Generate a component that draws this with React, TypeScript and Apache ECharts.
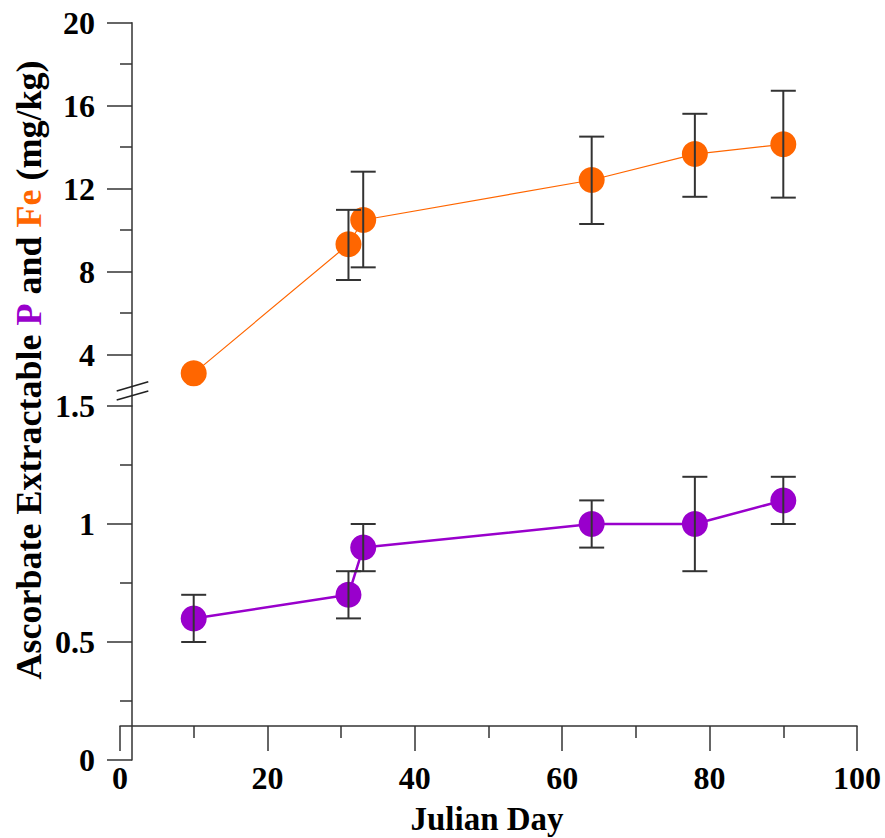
import React, { useEffect, useRef } from "react";
import * as echarts from "echarts";

const feDays = [10, 31, 33, 64, 78, 90];
const feValues = [3.1, 9.32, 10.49, 12.42, 13.67, 14.14];
const feLow = [null, 7.6, 8.21, 10.3, 11.61, 11.57];
const feHigh = [null, 10.98, 12.82, 14.51, 15.61, 16.72];

const pDays = [10, 31, 33, 64, 78, 90];
const pValues = [0.6, 0.7, 0.9, 1.0, 1.0, 1.1];
const pLow = [0.5, 0.6, 0.8, 0.9, 0.8, 1.0];
const pHigh = [0.7, 0.8, 1.0, 1.1, 1.2, 1.2];

const xTicks = [0, 20, 40, 60, 80, 100];
const feMajorTicks = [4, 8, 12, 16, 20];
const feMinorTicks = [6, 10, 14, 18];

const FONT = "'Liberation Serif', 'Times New Roman', serif";
const ORANGE = "#FF6600";
const PURPLE = "#9900CC";
const AXIS = "#333333";

function errRender(params: any, api: any) {
  const x = api.value(0);
  const lo = api.value(2);
  const hi = api.value(3);
  if (lo == null || hi == null || isNaN(lo) || isNaN(hi)) return null;
  const a = api.coord([x, lo]);
  const b = api.coord([x, hi]);
  const w = 12.5;
  const st = { stroke: "#333", lineWidth: 2 };
  return {
    type: "group",
    children: [
      { type: "line", shape: { x1: a[0], y1: a[1], x2: b[0], y2: b[1] }, style: st },
      { type: "line", shape: { x1: a[0] - w, y1: a[1], x2: a[0] + w, y2: a[1] }, style: st },
      { type: "line", shape: { x1: b[0] - w, y1: b[1], x2: b[0] + w, y2: b[1] }, style: st },
    ],
  };
}

export default function App() {
  const ref = useRef<HTMLDivElement>(null);
  useEffect(() => {
    document.body.style.margin = "0";
    const chart = echarts.init(ref.current!, null, { renderer: "svg" });
    const hiddenX = (gi: number, min: number) => ({
      type: "value",
      gridIndex: gi,
      min,
      max: 100,
      show: false,
    });
    const labelStyle = { fontFamily: FONT, fontWeight: "bold", fontSize: 32, color: "#000" };
    const upperMin = 20 - (406 - 22.7) / 20.75;
    const xShift = 12 / 7.37;
    chart.setOption({
      animation: false,
      backgroundColor: "#fff",
      grid: [
        { left: 132, right: 28, top: 22.7, height: 406 - 22.7 },
        { left: 132, right: 28, top: 406, height: 354 },
        { left: 120, right: 28, top: 700, height: 26 },
      ],
      xAxis: [
        hiddenX(0, xShift),
        hiddenX(1, xShift),
        {
          type: "value",
          gridIndex: 2,
          min: 0,
          max: 100,
          interval: 20,
          position: "bottom",
          axisLine: { show: true, onZero: false, lineStyle: { color: AXIS, width: 1.5 } },
          axisTick: { show: true, length: 25, lineStyle: { color: AXIS, width: 1.5 } },
          minorTick: { show: true, splitNumber: 2, length: 12, lineStyle: { color: AXIS, width: 1.5 } },
          splitLine: { show: false },
          axisLabel: { ...labelStyle, margin: 36, customValues: xTicks },
        },
      ],
      yAxis: [
        {
          type: "value",
          gridIndex: 0,
          position: "left",
          min: upperMin,
          max: 20,
          axisLine: { show: true, onZero: false, lineStyle: { color: AXIS, width: 1.5 } },
          axisTick: { show: true, length: 25, customValues: feMajorTicks, lineStyle: { color: AXIS, width: 1.5 } },
          axisLabel: { ...labelStyle, margin: 37, customValues: feMajorTicks },
          splitLine: { show: false },
        },
        {
          type: "value",
          gridIndex: 0,
          position: "left",
          offset: 0,
          min: upperMin,
          max: 20,
          axisLine: { show: false, onZero: false },
          axisTick: { show: true, length: 12, customValues: feMinorTicks, lineStyle: { color: AXIS, width: 1.5 } },
          axisLabel: { show: false },
          splitLine: { show: false },
        },
        {
          type: "value",
          gridIndex: 1,
          position: "left",
          min: 0,
          max: 1.5,
          interval: 0.5,
          axisLine: { show: true, onZero: false, lineStyle: { color: AXIS, width: 1.5 } },
          axisTick: { show: true, length: 25, lineStyle: { color: AXIS, width: 1.5 } },
          minorTick: { show: true, splitNumber: 2, length: 12, lineStyle: { color: AXIS, width: 1.5 } },
          axisLabel: { ...labelStyle, margin: 37, formatter: (v: number) => String(v) },
          splitLine: { show: false },
        },
        { type: "value", gridIndex: 2, show: false, min: 0, max: 1 },
      ],
      series: [
        {
          type: "line",
          xAxisIndex: 0,
          yAxisIndex: 0,
          data: feDays.map((d, i) => [d, feValues[i]]),
          symbol: "circle",
          symbolSize: 26,
          itemStyle: { color: ORANGE },
          lineStyle: { color: ORANGE, width: 1.2 },
          z: 2,
        },
        {
          type: "custom",
          xAxisIndex: 0,
          yAxisIndex: 0,
          renderItem: errRender,
          data: feDays.map((d, i) => [d, feValues[i], feLow[i] ?? NaN, feHigh[i] ?? NaN]),
          z: 5,
        },
        {
          type: "line",
          xAxisIndex: 1,
          yAxisIndex: 2,
          data: pDays.map((d, i) => [d, pValues[i]]),
          symbol: "circle",
          symbolSize: 26,
          itemStyle: { color: PURPLE },
          lineStyle: { color: PURPLE, width: 2.5 },
          z: 2,
        },
        {
          type: "custom",
          xAxisIndex: 1,
          yAxisIndex: 2,
          renderItem: errRender,
          data: pDays.map((d, i) => [d, pValues[i], pLow[i], pHigh[i]]),
          z: 5,
        },
      ],
      graphic: [
        {
          type: "line",
          shape: { x1: 116.7, y1: 391, x2: 148.3, y2: 381.7 },
          style: { stroke: "#222", lineWidth: 1.5 },
          z: 10,
        },
        {
          type: "line",
          shape: { x1: 116.7, y1: 400, x2: 148.3, y2: 391 },
          style: { stroke: "#222", lineWidth: 1.5 },
          z: 10,
        },
        {
          type: "text",
          x: 487,
          y: 819,
          style: {
            text: "Julian Day",
            font: `bold 33px ${FONT}`,
            fill: "#000",
            align: "center",
            verticalAlign: "middle",
          },
        },
        {
          type: "text",
          x: 29,
          y: 370,
          rotation: Math.PI / 2,
          style: {
            text: "{a|Ascorbate Extractable }{p|P}{a| and }{f|Fe}{a| (mg/kg)}",
            align: "center",
            verticalAlign: "middle",
            rich: {
              a: { fontFamily: FONT, fontWeight: "bold", fontSize: 36, fill: "#000" },
              p: { fontFamily: FONT, fontWeight: "bold", fontSize: 36, fill: PURPLE },
              f: { fontFamily: FONT, fontWeight: "bold", fontSize: 36, fill: ORANGE },
            },
          },
        },
      ],
    });
    return () => chart.dispose();
  }, []);
  return <div ref={ref} style={{ width: 885, height: 838 }} />;
}
